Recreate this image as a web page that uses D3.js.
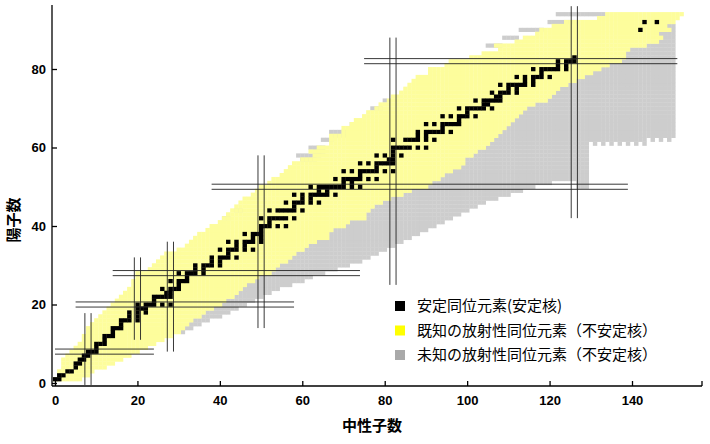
<!DOCTYPE html>
<html><head><meta charset="utf-8">
<script src="https://cdn.jsdelivr.net/npm/d3@7"></script>
<style>body{margin:0;background:#fff}text{font-family:"Liberation Sans",Arial,sans-serif}</style>
</head><body><svg id="c" width="710" height="444"></svg>
<script>
// ---- data ----
const xTicks = [0,20,40,60,80,100,120,140];
const yTicks = [0,20,40,60,80];
// index = Z
const knownMin = [null,0,1,1,2,2,2,3,4,5,6,7,7,8,8,9,10,11,12,13,14,15,16,17,18,19,19,20,20,23,24,25,26,27,30,32,33,34,35,37,38,40,41,42,43,44,45,46,48,49,50,52,53,55,56,57,58,60,63,62,64,67,67,67,70,70,72,73,75,76,78,79,81,82,84,85,86,87,88,91,91,95,96,101,104,108,107,112,114,117,118,121,124,132,134];
const knownMax = [null,6,8,9,12,14,16,18,20,22,24,26,28,30,31,32,33,35,36,38,40,41,43,44,45,46,48,49,52,53,54,56,57,58,60,61,63,66,66,67,70,71,75,75,76,77,79,81,84,86,90,91,93,94,96,98,99,99,101,102,104,105,106,107,108,109,110,111,112,113,114,116,119,120,121,122,124,126,128,130,132,134,137,138,138,139,143,146,147,146,149,148,150,151,152];
// lowest Z of unknown (neutron-rich) nuclei for N = 30..150
const grayN0 = 30;
const grayZLow = [13,13,14,14,15,15,16,16,17,17, 17,18,18,19,19,20,20,21,21,22, 22,23,23,24,24,25,25,25,26,26, 26,27,27,28,28,28,29,29,29,30, 30,30,31,31,31,32,32,33,33,34, 34,35,35,36,36,37,37,38,38,39, 39,40,40,41,41,42,42,43,43,44, 44,45,45,46,46,47,47,47,48,48, 48,49,49,49,50,50,50,51,51,51, 51,52,52,52,52,52,52,50,50,50, 62,61,62,61,62,61,62,61,62,61, 62,61,62,61,63,62,63,62,63,62,63];
const grayNMax = 150;
// unknown proton-rich segments [Z, Nfrom, Nto]
const protonGray = [[94,122,133],[92,120,126],[90,113,118],[88,109,112],[86,105,108],[72,80,80],[70,77,79],[66,72,72],[64,67,71],[63,68,71],[62,65,67],[60,62,65],[59,63,65],[58,59,64],[57,60,63],[44,44,45],[42,41,42]];
// stable nuclides, index = Z, list of N
const stableN = [[],[0,1],[1,2],[3,4],[5],[5,6],[6,7],[7,8],[8,9,10],[10],[10,11,12],[12],[12,13,14],[14],[14,15,16],[16],[16,17,18,20],[18,20],[18,20,22],[20,21,22],[20,22,23,24,26,28],[24],[24,25,26,27,28],[27,28],[26,28,29,30],[30],[28,30,31,32],[32],[30,32,33,34,36],[34,36],[34,36,37,38,40],[38,40],[38,40,41,42,44],[42],[40,42,43,44,46,48],[44,46],[42,44,46,47,48,50],[48,50],[46,48,49,50],[50],[50,51,52,54,56],[52],[50,52,53,54,55,56,58],[],[52,54,55,56,57,58,60],[58],[56,58,59,60,62,64],[60,62],[58,60,62,63,64,65,66,68],[64,66],[62,64,65,66,67,68,69,70,72,74],[70,72],[68,70,71,72,73,74,76,78],[74],[70,72,74,75,76,77,78,80,82],[78],[74,76,78,79,80,81,82],[81,82],[78,80,82,84],[82],[82,83,84,85,86,88,90],[],[82,85,86,87,88,90,92],[88,90],[88,90,91,92,93,94,96],[94],[90,92,94,95,96,97,98],[98],[94,96,98,99,100,102],[100],[98,100,101,102,103,104,106],[104,105],[102,104,105,106,107,108],[107,108],[106,108,109,110,112],[110,112],[108,110,111,112,113,114,116],[114,116],[112,114,116,117,118,120],[118],[116,118,119,120,121,122,124],[122,124],[122,124,125,126],[126],[],[],[],[],[],[],[142],[],[143,146]];
// magic-number lines
const magicN = [[8,-0.5,17.8],[20,11,32],[28,8,36],[50,14,58],[82,25,88],[126,42,96]];
const magicZ = [[8,0,24],[20,5,58],[28,14,74],[50,38,139],[82,75,151]];
const legendLabels = ["安定同位元素(安定核)","既知の放射性同位元素（不安定核）","未知の放射性同位元素（不安定核）"];
const colStable="#000", colKnown="#fdfd9c", colUnknown="#cdcdcd";
const legendColors=["#000","#ffff00","#a9a9a9"];

// ---- drawing ----
const svg=d3.select("#c");
const x=d3.scaleLinear().domain([0,140]).range([55,632]);
const y=d3.scaleLinear().domain([0,80]).range([383,69]);
const cw=x(1)-x(0), ch=y(0)-y(1);
function cells(list,color){
  svg.append("g").selectAll("rect").data(list).join("rect")
   .attr("x",d=>x(d[0]-0.5)).attr("y",d=>y(d[1]+0.5))
   .attr("width",cw+0.3).attr("height",ch+0.3).attr("fill",color);
}
const known=[],gray=[],stable=[];
knownMin.forEach((mn,z)=>{ if(mn==null)return; for(let n=mn;n<=knownMax[z];n++) known.push([n,z]); });
grayZLow.forEach((zl,i)=>{ const n=grayN0+i; for(let z=zl;z<knownMax.length;z++){ if(n>knownMax[z]&&n<=grayNMax) gray.push([n,z]); } });
protonGray.forEach(([z,a,b])=>{for(let n=a;n<=b;n++) gray.push([n,z]);});
stableN.forEach((ns,z)=>ns.forEach(n=>stable.push([n,z])));
cells(gray,colUnknown); cells(known,colKnown); cells(stable,colStable);

const lg=svg.append("g").attr("stroke","#222").attr("stroke-width",0.9);
magicN.forEach(([n,a,b])=>[-0.75,0.75].forEach(o=>lg.append("line").attr("x1",x(n+o)).attr("x2",x(n+o)).attr("y1",y(a)).attr("y2",y(b))));
magicZ.forEach(([z,a,b])=>[-0.65,0.65].forEach(o=>lg.append("line").attr("y1",y(z+o)).attr("y2",y(z+o)).attr("x1",x(a)).attr("x2",x(b))));

// axes
const ax=svg.append("g").attr("stroke","#000").attr("stroke-width",1.3);
ax.append("line").attr("x1",52).attr("x2",702).attr("y1",386).attr("y2",386);
ax.append("line").attr("x1",52).attr("x2",52).attr("y1",5).attr("y2",386);
ax.append("line").attr("x1",702).attr("x2",702).attr("y1",386).attr("y2",381);
const xa=svg.append("g").attr("transform","translate(0,386)").call(d3.axisBottom(x).tickValues(xTicks).tickSize(-5).tickPadding(10));
xa.select(".domain").remove();
const ya=svg.append("g").attr("transform","translate(52,0)").call(d3.axisLeft(y).tickValues(yTicks).tickSize(-5).tickPadding(4));
ya.select(".domain").remove();
svg.selectAll(".tick line").attr("stroke","#000").attr("stroke-width",1.3);
svg.selectAll(".tick text").attr("font-size",13).attr("font-weight","bold").attr("fill","#000");
ya.selectAll(".tick text").attr("dx",-2);

svg.append("text").attr("x",372).attr("y",431).attr("text-anchor","middle").attr("font-size",15).attr("font-weight","bold").style("font-family","'Noto Sans CJK JP'").text("中性子数");
svg.append("text").attr("transform","translate(19,220) rotate(-90)").attr("text-anchor","middle").attr("font-size",15).attr("font-weight","bold").style("font-family","'Noto Sans CJK JP'").text("陽子数");

const leg=svg.append("g");
legendLabels.forEach((t,i)=>{
  leg.append("rect").attr("x",395).attr("y",301+i*24.5).attr("width",10).attr("height",10).attr("fill",legendColors[i]);
  leg.append("text").attr("x",417).attr("y",311+i*24.5).attr("font-size",15).style("font-family","'Noto Sans CJK JP'").text(t);
});
</script></body></html>
